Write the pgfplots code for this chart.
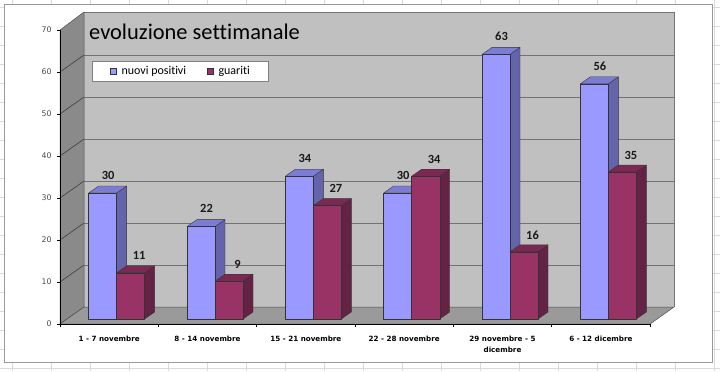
\documentclass[border=0pt]{standalone}
\usepackage{pgfplots}
\pgfplotsset{compat=1.18}
\usepackage{fontspec}
\setmainfont{Carlito}[Ligatures=NoCommon]
\newfontfamily\tah{DejaVu Sans}
\definecolor{bluef}{HTML}{9999FF}
\definecolor{blues}{HTML}{6464AA}
\definecolor{bluet}{HTML}{7C7CD2}
\definecolor{redf}{HTML}{993366}
\definecolor{reds}{HTML}{642244}
\definecolor{redt}{HTML}{7A2952}
\definecolor{backwall}{HTML}{C0C0C0}
\definecolor{sidewall}{HTML}{8A8A8A}
\definecolor{floorc}{HTML}{9A9A9A}
\definecolor{sheet}{HTML}{DADADA}

\pgfplotsset{
  bar3d/.style n args={4}{
    scatter, only marks,
    mark=*, mark size=0pt, mark options={draw=none, fill=none},
    point meta=y,
    visualization depends on={rawy \as \vy},
    scatter/@pre marker code/.append code={%
      \pgfmathsetmacro\hb{5-\vy*4.2}%
      \filldraw[fill=#3, draw=black!80, line width=0.35bp, line join=round]
        ({(#1+28)*1bp},{\hb*1bp}) -- ({(#1+38)*1bp},{(\hb+7)*1bp}) --
        ({(#1+38)*1bp},{12bp}) -- ({(#1+28)*1bp},{5bp}) -- cycle;
      \filldraw[fill=#4, draw=black!80, line width=0.35bp, line join=round]
        ({#1*1bp},{5bp}) -- ({(#1+28)*1bp},{5bp}) --
        ({(#1+38)*1bp},{12bp}) -- ({(#1+10)*1bp},{12bp}) -- cycle;
      \filldraw[fill=#2, draw=black!80, line width=0.35bp, line join=round]
        ({#1*1bp},{\hb*1bp}) rectangle ({(#1+28)*1bp},{5bp});
    },
  },
}

\begin{document}
\begin{tikzpicture}[x=1bp,y=1bp]
\useasboundingbox (0,0) rectangle (720,371);
\fill[white] (0,0) rectangle (720,371);
% spreadsheet grid
\foreach \gx in {12,51,90,129,168,207,246,285,324,363,402,441,480,519,558,597,636,675,714}
  \draw[sheet, line width=0.6bp] (\gx,0) -- (\gx,371);
\foreach \gy in {3,22,41,60,79,98,117,136,155,174,193,212,231,250,269,288,307,326,345,364}
  \draw[sheet, line width=0.6bp] (0,\gy) -- (720,\gy);
% chart frame
\filldraw[fill=white, draw=black!40, line width=0.8bp] (4,9) rectangle (712.5,367);
% walls
\fill[backwall] (84,64) rectangle (674,359);
\filldraw[fill=sidewall, draw=black!70, line width=0.5bp] (60,47) -- (60,341) -- (84,359) -- (84,64) -- cycle;
\filldraw[fill=floorc, draw=black!70, line width=0.5bp] (60,47) -- (650,47) -- (674,64) -- (84,64) -- cycle;
\foreach \k in {1,...,6} {
  \draw[black!55, line width=0.8bp] (84,{64+42*\k}) -- (674,{64+42*\k});
  \draw[black!80, line width=0.5bp] (60,{47+42*\k}) -- (84,{64+42*\k});
}
\draw[black!55, line width=0.8bp] (84,359) -- (674,359) -- (674,64);

\begin{axis}[
  at={(60bp,47bp)}, anchor=south west,
  x=98.3333bp, y=4.2bp,
  xmin=-0.5, xmax=5.5, ymin=0, ymax=70,
  clip=false,
  axis x line*=bottom, axis y line*=left,
  axis line style={black, line width=0.6bp},
  tick align=outside,
  major tick length=3bp, minor tick length=3bp,
  ytick={0,10,...,70},
  yticklabel style={font=\tah\fontsize{7.8}{9}\selectfont, text=black!70, xshift=-2bp},
  /pgf/number format/assume math mode=true,
  xtick={0,...,5},
  xticklabels={1 - 7 novembre, 8 - 14 novembre, 15 - 21 novembre, 22 - 28 novembre, {29 novembre - 5\\dicembre}, 6 - 12 dicembre},
  xticklabel style={font=\tah\bfseries\fontsize{7.2}{11}\selectfont, align=center, yshift=-6bp},
  major x tick style={draw=none},
  minor xtick={-0.5,0.5,...,5.5},
  minor x tick style={black, line width=0.5bp},
  ytick style={black, line width=0.5bp},
  nodes near coords={\pgfmathprintnumber[int detect]{\pgfplotspointmeta}},
  every node near coord/.append style={font=\bfseries\fontsize{12.5}{14}\selectfont, anchor=center, text=black!90},
  legend style={at={(0.0542,0.8946)}, anchor=north west, draw=black!50, line width=0.5bp, fill=white,
    font=\fontsize{12}{14}\selectfont, legend columns=2, inner xsep=18bp, inner ysep=4bp,
    nodes={inner xsep=0bp, inner ysep=1bp},
    /tikz/every odd column/.append style={column sep=5bp},
    /tikz/every even column/.append style={column sep=21bp}},
]
\addplot[bar3d={-20.5}{bluef}{blues}{bluet},
  nodes near coords style={xshift=-1bp, yshift=23bp},
  legend image code/.code={\filldraw[fill=bluef, draw=black!80, line width=0.4bp] (0bp,-3bp) rectangle (6bp,3bp);}]
  coordinates {(0,30) (1,22) (2,34) (3,30) (4,63) (5,56)};
\addlegendentry{nuovi positivi}
\addplot[bar3d={7.5}{redf}{reds}{redt},
  nodes near coords style={xshift=30bp, yshift=22bp},
  legend image code/.code={\filldraw[fill=redf, draw=black!80, line width=0.4bp] (0bp,-3bp) rectangle (6bp,3bp);}]
  coordinates {(0,11) (1,9) (2,27) (3,34) (4,16) (5,35)};
\addlegendentry{guariti}
\end{axis}
\node[anchor=base west, font=\fontsize{22.5}{26}\selectfont, inner sep=0] at (89,331.5) {evoluzione settimanale};
\end{tikzpicture}
\end{document}
